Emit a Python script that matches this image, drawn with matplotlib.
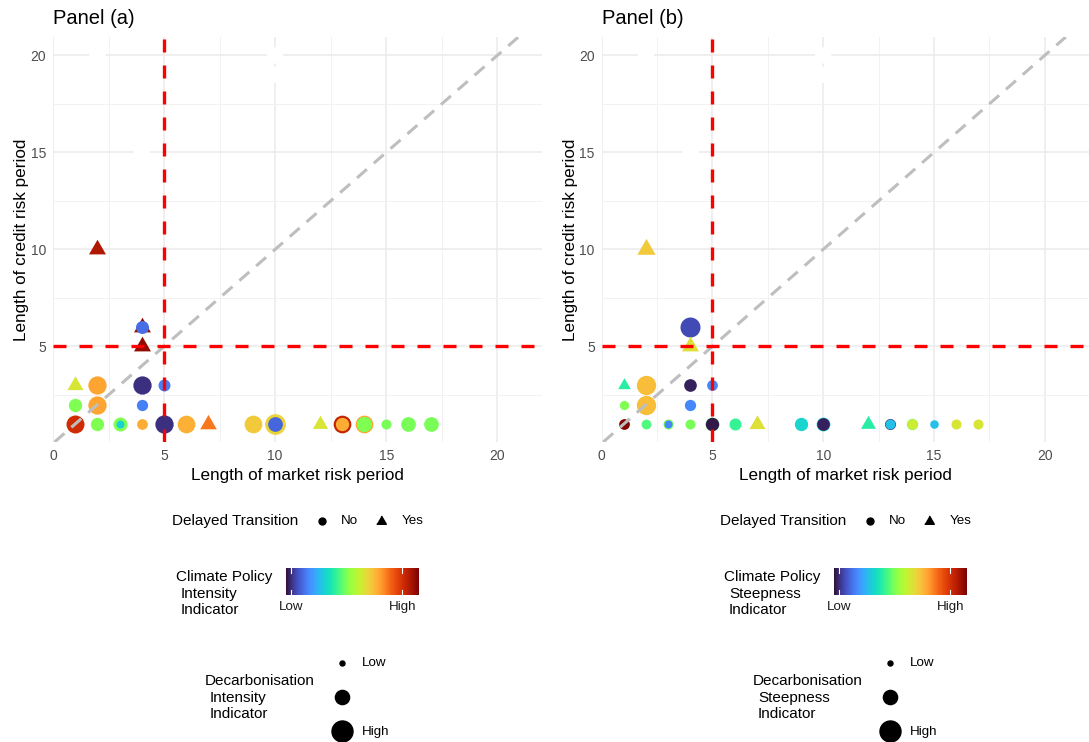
import numpy as np
import matplotlib.pyplot as plt
from matplotlib.colors import Normalize
from matplotlib.cm import ScalarMappable
from matplotlib.lines import Line2D

plt.rcParams['font.family'] = ['Liberation Sans', 'DejaVu Sans']

W, H = 1089, 742

# Panel (a): market period, credit period, delayed (1 = yes), policy intensity, decarbonisation intensity
a_market = [1, 2, 3, 3, 4, 5, 6, 7, 9, 10, 10, 12, 13, 13, 14, 14, 15, 16, 17,
            1, 2, 4, 1, 2, 4, 5, 2, 4, 4, 4]
a_credit = [1, 1, 1, 1, 1, 1, 1, 1, 1, 1, 1, 1, 1, 1, 1, 1, 1, 1, 1,
            2, 2, 2, 3, 3, 3, 3, 10, 6, 6, 5]
a_delayed = [0, 0, 0, 0, 0, 0, 0, 1, 0, 0, 0, 1, 0, 0, 0, 0, 0, 0, 0,
             0, 0, 0, 1, 0, 0, 0, 1, 1, 0, 1]
a_policy = [0.88, 0.46, 0.46, 0.29, 0.69, 0.04, 0.68, 0.76, 0.64, 0.62, 0.12, 0.58, 0.90, 0.69,
            0.70, 0.46, 0.45, 0.45, 0.45,
            0.46, 0.70, 0.16, 0.58, 0.70, 0.04, 0.16, 0.93, 0.96, 0.13, 0.97]
a_decarb = [0.66, 0.27, 0.32, 0.035, 0.13, 0.69, 0.63, 0.53, 0.63, 0.96, 0.37, 0.41, 0.63, 0.27,
            0.63, 0.41, 0.10, 0.37, 0.37,
            0.27, 0.69, 0.155, 0.47, 0.69, 0.69, 0.19, 0.56, 0.56, 0.25, 0.56]

# Panel (b): market period, credit period, delayed, policy steepness, decarbonisation steepness
b_market = [1, 1, 2, 3, 3, 4, 5, 5, 6, 7, 9, 10, 10, 12, 13, 13, 13, 14, 14, 15, 16, 17,
            1, 2, 4, 1, 2, 4, 5, 2, 4, 4]
b_credit = [1, 1, 1, 1, 1, 1, 1, 1, 1, 1, 1, 1, 1, 1, 1, 1, 1, 1, 1, 1, 1, 1,
            2, 2, 2, 3, 3, 3, 3, 10, 6, 5]
b_delayed = [1, 0, 0, 0, 0, 0, 0, 0, 0, 1, 0, 0, 0, 1, 1, 0, 0, 0, 0, 0, 0, 0,
             0, 0, 0, 1, 0, 0, 0, 1, 0, 1]
b_policy = [0.40, 0.99, 0.41, 0.45, 0.17, 0.45, 0.42, 0.01, 0.38, 0.59, 0.30, 0.30, 0.02, 0.36,
            0.38, 0.02, 0.26, 0.45, 0.56, 0.26, 0.58, 0.58,
            0.46, 0.66, 0.17, 0.36, 0.66, 0.02, 0.17, 0.64, 0.08, 0.59]
b_decarb = [0.03, 0.13, 0.09, 0.10, 0.035, 0.10, 0.30, 0.27, 0.19, 0.47, 0.27, 0.30, 0.23, 0.39,
            0.05, 0.14, 0.10, 0.155, 0.11, 0.05, 0.10, 0.10,
            0.07, 0.80, 0.155, 0.23, 0.80, 0.23, 0.13, 0.69, 0.88, 0.56]

# points drawn in white (no colour value)
blank_market = [2, 4, 10, 10]
blank_credit = [20, 15, 20, 19]

threshold = 5
cmap = plt.get_cmap('turbo')
norm = Normalize(0, 1)

# equilateral triangle centred on its centroid (width = 0.866 * marker size)
TRI = [(-1, -0.577), (1, -0.577), (0, 1.155)]
TRI_AREA = 1 / 0.75


def size_pts(v):
    # diameter in pixels from 5 (low) to 21 (high), area-like scaling
    d_px = 5 + 16 * np.sqrt(np.asarray(v, dtype=float))
    return (d_px * 72 / 100) ** 2


def fx(x):
    return x / W


def fy(y):
    return 1 - y / H


fig = plt.figure(figsize=(W / 100, H / 100), dpi=100)


def draw_panel(left, right, market, credit, delayed, policy, decarb, title):
    ax = fig.add_axes([fx(left), fy(442), (right - left) / W, (442 - 37) / H])
    ax.set_xlim(0, 22.0)
    ax.set_ylim(0.07, 20.95)
    ax.set_xticks([0, 5, 10, 15, 20])
    ax.set_yticks([5, 10, 15, 20])
    ax.set_xticks([2.5, 7.5, 12.5, 17.5], minor=True)
    ax.set_yticks([2.5, 7.5, 12.5, 17.5], minor=True)
    ax.grid(which='major', color='#ebebeb', lw=1.1, zorder=0)
    ax.grid(which='minor', color='#f2f2f2', lw=0.7, zorder=0)
    ax.set_axisbelow(True)
    for sp in ax.spines.values():
        sp.set_visible(False)
    ax.tick_params(which='both', length=0, labelsize=10, labelcolor='#4d4d4d', pad=5)

    ax.scatter(blank_market, blank_credit, s=size_pts([0.5] * len(blank_market)),
               color='white', linewidths=0, zorder=2)
    for i in range(len(market)):
        s = size_pts([decarb[i]])
        if delayed[i]:
            s = s * TRI_AREA
        ax.scatter([market[i]], [credit[i]], c=[policy[i]], cmap=cmap, norm=norm,
                   s=s, marker=TRI if delayed[i] else 'o',
                   linewidths=0, zorder=3)

    ax.axline((0, 0), slope=1, color='#bebebe', lw=2.2, linestyle=(0, (4.3, 3.0)), zorder=4)
    ax.axvline(threshold, color='#ff0000', lw=2.4, linestyle=(0, (3.9, 3.9)), zorder=5)
    ax.axhline(threshold, color='#ff0000', lw=2.4, linestyle=(0, (3.9, 3.9)), zorder=5)

    ax.set_xlabel('Length of market risk period', fontsize=12.3, labelpad=4)
    ax.set_ylabel('Length of credit risk period', fontsize=12.3, labelpad=1)
    ax.set_title(title, loc='left', fontsize=14.5, pad=9)
    return ax


def draw_legends(dx, policy_word, decarb_word):
    # shape legend
    fig.text(fx(172 + dx), fy(521), 'Delayed Transition', fontsize=11, va='center')
    fig.add_artist(Line2D([fx(322 + dx)], [fy(521)], marker='o', color='black',
                          markersize=5, linestyle='none', transform=fig.transFigure))
    fig.text(fx(341 + dx), fy(521), 'No', fontsize=9.6, va='center')
    fig.add_artist(Line2D([fx(381 + dx)], [fy(521)], marker=TRI, color='black',
                          markersize=8, linestyle='none', transform=fig.transFigure))
    fig.text(fx(402 + dx), fy(521), 'Yes', fontsize=9.6, va='center')

    # colour legend
    fig.text(fx(176 + dx), fy(577), 'Climate Policy', fontsize=11, va='center')
    fig.text(fx(181 + dx), fy(594), policy_word, fontsize=11, va='center')
    fig.text(fx(181 + dx), fy(610), 'Indicator', fontsize=11, va='center')
    cax = fig.add_axes([fx(286 + dx), fy(595), 133 / W, 27 / H])
    cb = fig.colorbar(ScalarMappable(norm=norm, cmap=cmap), cax=cax, orientation='horizontal')
    cb.outline.set_visible(False)
    ticks = [0.04, 0.875]
    cb.set_ticks(ticks, labels=['Low', 'High'])
    cax.tick_params(length=0, labelsize=9.6, pad=4, labelcolor='#1a1a1a')
    for t in ticks:
        cax.plot([t, t], [0, 0.2], color='white', lw=0.8, transform=cax.get_xaxis_transform())
        cax.plot([t, t], [0.8, 1], color='white', lw=0.8, transform=cax.get_xaxis_transform())

    # size legend
    fig.text(fx(205 + dx), fy(681), 'Decarbonisation', fontsize=11, va='center')
    fig.text(fx(210 + dx), fy(698), decarb_word, fontsize=11, va='center')
    fig.text(fx(210 + dx), fy(714), 'Indicator', fontsize=11, va='center')
    for v, yy in zip([0.0, 0.33, 1.0], [663, 697, 731]):
        fig.add_artist(Line2D([fx(342 + dx)], [fy(yy)], marker='o', color='black',
                              markersize=np.sqrt(size_pts([v])[0]), linestyle='none',
                              transform=fig.transFigure))
    fig.text(fx(362 + dx), fy(663), 'Low', fontsize=9.6, va='center')
    fig.text(fx(362 + dx), fy(732), 'High', fontsize=9.6, va='center')


draw_panel(53, 541.7, a_market, a_credit, a_delayed, a_policy, a_decarb, 'Panel (a)')
draw_panel(601.7, 1089, b_market, b_credit, b_delayed, b_policy, b_decarb, 'Panel (b)')
draw_legends(0, 'Intensity', 'Intensity')
draw_legends(548, 'Steepness', 'Steepness')

fig.savefig('out.png', dpi=100)
